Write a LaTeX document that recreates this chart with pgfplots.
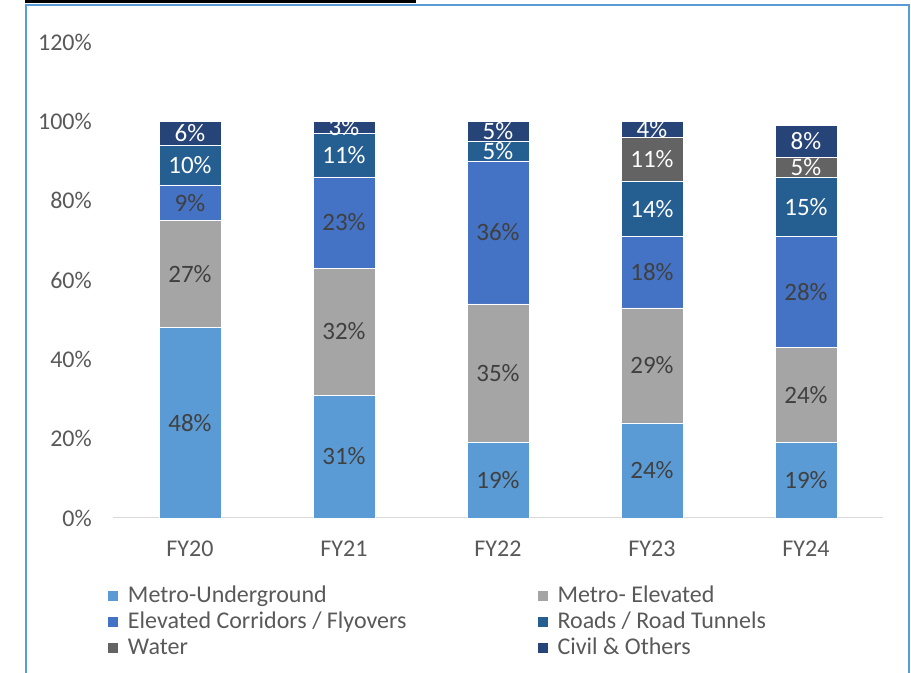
\documentclass[border=0pt]{standalone}
\usepackage{fontspec}
\setmainfont{Carlito}
\usepackage{pgfplots}
\pgfplotsset{compat=1.18}
\definecolor{cMU}{HTML}{5B9BD5}
\definecolor{cME}{HTML}{A5A5A5}
\definecolor{cEC}{HTML}{4472C4}
\definecolor{cRD}{HTML}{255E91}
\definecolor{cWA}{HTML}{636363}
\definecolor{cCO}{HTML}{264478}
\definecolor{txt}{HTML}{595959}
\definecolor{lbl}{HTML}{404040}
\definecolor{frm}{HTML}{5B9BD5}
\definecolor{axl}{HTML}{D9D9D9}
\begin{document}
\begin{tikzpicture}
\useasboundingbox (0,0) rectangle (911bp,673bp);
\draw[frm, line width=2bp] (26bp,-5bp) -- (26bp,668bp) -- (909bp,668bp) -- (909bp,-5bp);
\draw[black, line width=3bp] (25bp,671.5bp) -- (416bp,671.5bp);
\begin{axis}[
  at={(113bp,155bp)}, anchor=south west,
  scale only axis, width=770bp, height=476bp,
  xmin=-0.5, xmax=4.5, ymin=0, ymax=120,
  ybar stacked, bar width=62bp,
  axis line style={draw=none},
  tick style={draw=none},
  xtick={0,1,2,3,4},
  xticklabels={FY20,FY21,FY22,FY23,FY24},
  ytick={0,20,40,60,80,100,120},
  yticklabels={0\%,20\%,40\%,60\%,80\%,100\%,120\%},
  ticklabel style={font=\fontsize{24bp}{28bp}\selectfont, text=txt, inner sep=0pt},
  xticklabel style={anchor=base, yshift=-38.5bp},
  yticklabel style={anchor=east, xshift=-21bp},
  point meta=explicit symbolic,
  nodes near coords={\ifnum\pgfplotspointmeta>0 \pgfplotspointmeta\%\fi},
  every node near coord/.append style={anchor=center, font=\fontsize{25bp}{29bp}\selectfont, text=lbl},
  every axis plot post/.append style={draw=white, line width=0.5bp,
     legend image code/.code={\fill[##1, draw=none] (0bp,-5bp) rectangle (10bp,5bp);}},
  legend columns=2,
  legend cell align=left,
  legend style={at={(-0.0065,-0.1418)}, anchor=north west, draw=none, fill=none,
     inner sep=0pt, outer sep=0pt, row sep=4bp,
     font=\fontsize{24bp}{28bp}\selectfont, text=txt,
     nodes={inner sep=0pt, outer sep=0pt, text height=17bp, text depth=5bp},
     /tikz/every odd column/.append style={column sep=10bp},
     /tikz/every even column/.append style={column sep=131bp}},
]
\addplot[fill=cMU] coordinates {(0,48) [48] (1,31) [31] (2,19) [19] (3,24) [24] (4,19) [19]};
\addlegendentry{Metro-Underground}
\addplot[fill=cME] coordinates {(0,27) [27] (1,32) [32] (2,35) [35] (3,29) [29] (4,24) [24]};
\addlegendentry{Metro- Elevated}
\addplot[fill=cEC] coordinates {(0,9) [9] (1,23) [23] (2,36) [36] (3,18) [18] (4,28) [28]};
\addlegendentry{Elevated Corridors / Flyovers}
\addplot[fill=cRD, every node near coord/.append style={text=white}] coordinates {(0,10) [10] (1,11) [11] (2,5) [5] (3,14) [14] (4,15) [15]};
\addlegendentry{Roads / Road Tunnels}
\addplot[fill=cWA, every node near coord/.append style={text=white}] coordinates {(0,0) [0] (1,0) [0] (2,0) [0] (3,11) [11] (4,5) [5]};
\addlegendentry{Water}
\addplot[fill=cCO, every node near coord/.append style={text=white}] coordinates {(0,6) [6] (1,3) [3] (2,5) [5] (3,4) [4] (4,8) [8]};
\addlegendentry{Civil \& Others}
\draw[axl, line width=1bp] (axis cs:-0.5,0) -- (axis cs:4.5,0);
\end{axis}
\end{tikzpicture}
\end{document}
